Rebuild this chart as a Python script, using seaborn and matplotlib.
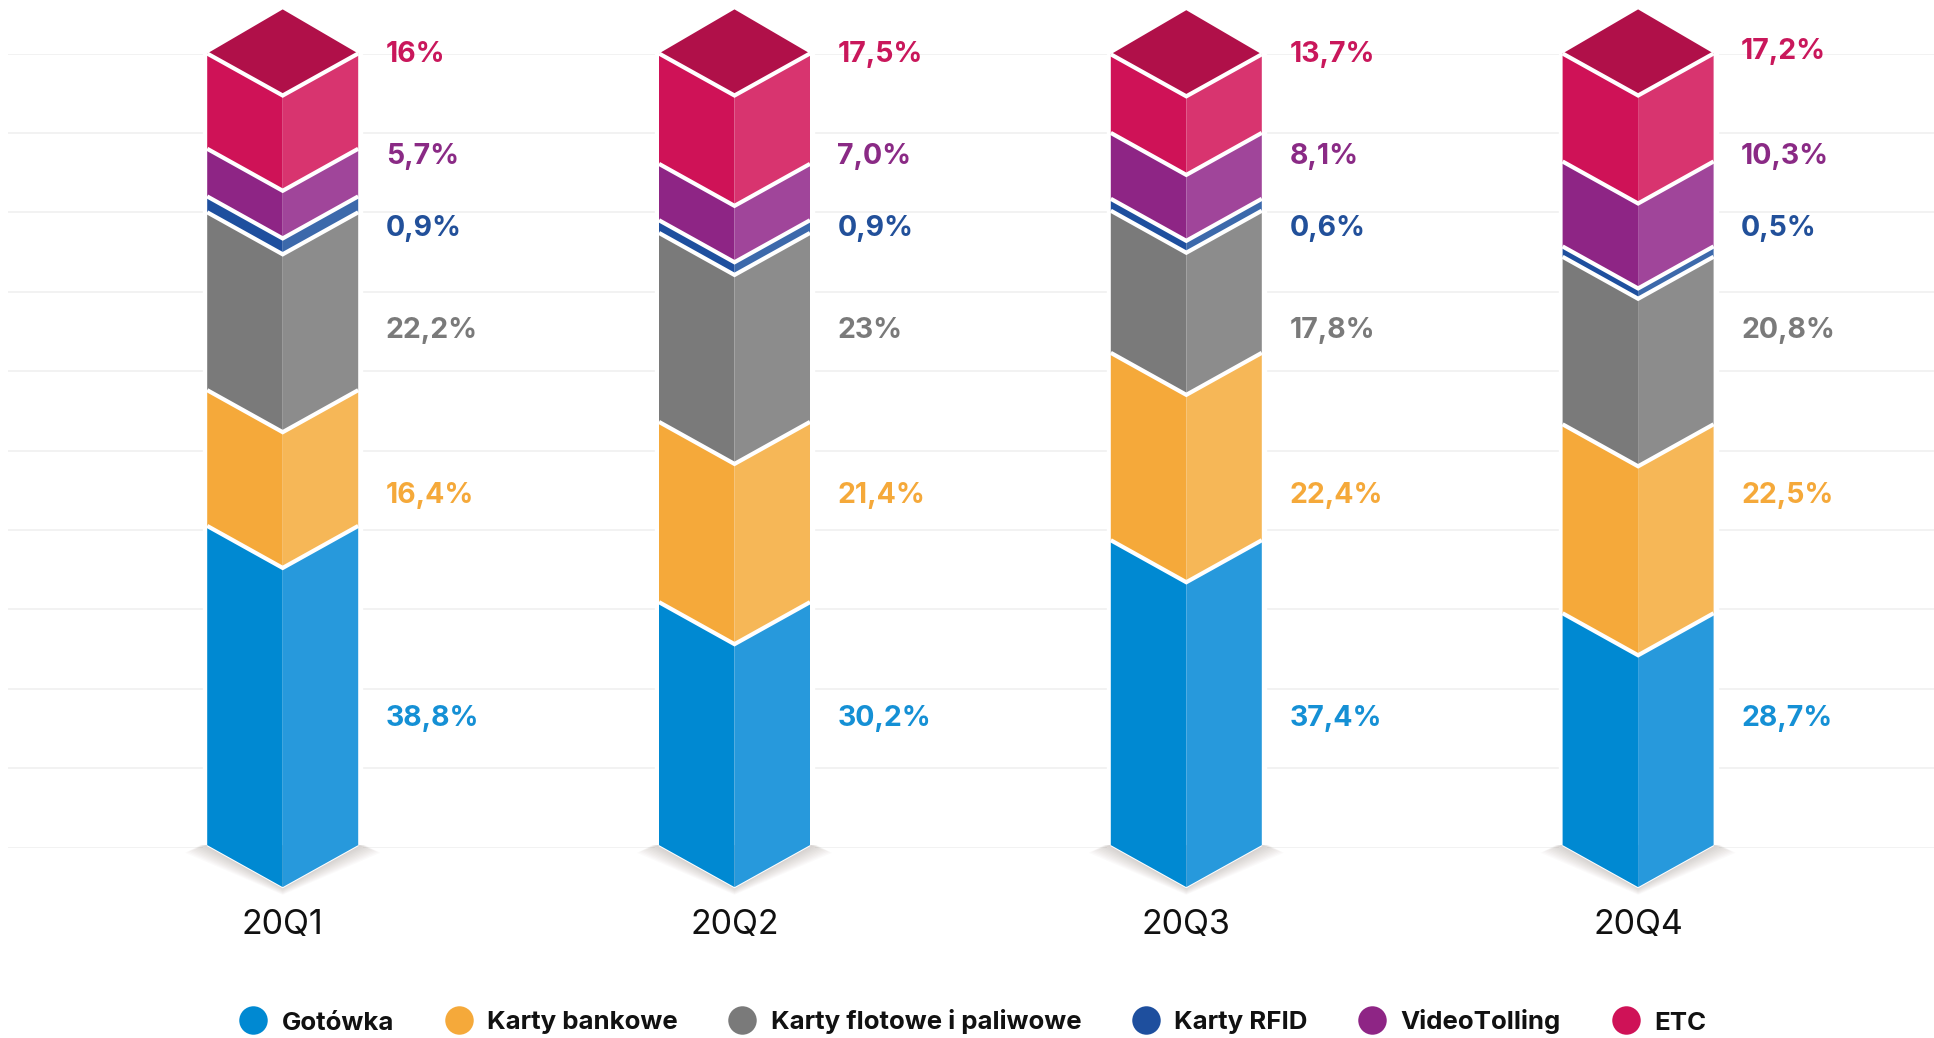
import matplotlib
matplotlib.use("Agg")
import matplotlib.pyplot as plt
from matplotlib.lines import Line2D
import seaborn as sns
import pandas as pd
import numpy as np

quarters = ["20Q1", "20Q2", "20Q3", "20Q4"]
methods = ["Gotówka", "Karty bankowe", "Karty flotowe i paliwowe", "Karty RFID", "VideoTolling", "ETC"]

# printed percentages
gotowka_lbl = ["38,8%", "30,2%", "37,4%", "28,7%"]
bankowe_lbl = ["16,4%", "21,4%", "22,4%", "22,5%"]
flotowe_lbl = ["22,2%", "23%", "17,8%", "20,8%"]
rfid_lbl = ["0,9%", "0,9%", "0,6%", "0,5%"]
video_lbl = ["5,7%", "7,0%", "8,1%", "10,3%"]
etc_lbl = ["16%", "17,5%", "13,7%", "17,2%"]

# heights as actually drawn in the picture (the artwork is not quite to scale)
gotowka_h = [40.2, 30.6, 38.4, 29.2]
bankowe_h = [17.1, 22.7, 23.6, 23.8]
flotowe_h = [22.4, 23.8, 17.9, 21.1]
rfid_h = [2.0, 1.6, 1.5, 1.3]
video_h = [6.0, 7.1, 8.3, 10.7]
etc_h = [12.0, 13.9, 9.9, 13.6]

left_cols = ["#0089d2", "#f5a93a", "#7a7a7a", "#1e4f9e", "#8e2585", "#cf1257"]
right_cols = ["#2799dc", "#f6b757", "#8c8c8c", "#3c69ab", "#a0459a", "#d8346f"]
top_col = "#b01049"
text_cols = ["#1590d5", "#f5a93a", "#7a7a7a", "#22509a", "#8a2a85", "#c9175b"]

W, H = 1934, 1038
PX_X = 451.8   # pixels per category
PX_Y = 7.94    # pixels per axis unit
hw = 75.5 / PX_X
sk = 42 / PX_Y
base = 0.3

sns.set_theme(style="white")
plt.rcParams["font.family"] = ["Inter", "DejaVu Sans"]

fig = plt.figure(figsize=(W / 100, H / 100), dpi=100, facecolor="white")
ax = fig.add_axes([8 / W, 1 - 847.5 / H, 1 - 8 / W, 794 / H])

df = pd.DataFrame({
    "quarter": quarters,
    "total": np.sum([gotowka_h, bankowe_h, flotowe_h, rfid_h, video_h, etc_h], axis=0) + base,
})
# white bar behind each column leaves the gap in the gridlines
sns.barplot(data=df, x="quarter", y="total", color="white", saturation=1,
            width=2 * (75.5 + 4) / PX_X, ax=ax)

ax.set_xlim((8 - 282.7) / PX_X, (W - 282.7) / PX_X)
ax.set_ylim(0, 100)
ax.set_yticks(np.arange(0, 101, 10))
ax.set_axisbelow(True)
ax.grid(axis="y", color="#f2f2f2", lw=1.4)
ax.grid(axis="x", visible=False)
ax.set_xlabel("")
ax.set_ylabel("")
ax.tick_params(axis="y", left=False, labelleft=False)
ax.tick_params(axis="x", length=0, pad=44, labelsize=24.5, labelcolor="#111111")
sns.despine(ax=ax, left=True, bottom=True)

heights = np.array([gotowka_h, bankowe_h, flotowe_h, rfid_h, video_h, etc_h])
labels = [gotowka_lbl, bankowe_lbl, flotowe_lbl, rfid_lbl, video_lbl, etc_lbl]
label_y = [16.2, 44.3, 65.1, 78.0, 87.0, 99.9]

for q in range(len(quarters)):
    c = q
    # soft shadow under the column
    for k in range(22, 0, -2):
        dx, dy = k / PX_X, k / PX_Y
        ax.fill([c - hw - dx, c, c + hw + dx, c + hw + dx * 0.3, c - hw - dx * 0.3],
                [base - dy * 0.35, base - sk - dy * 0.35, base - dy * 0.35, base, base],
                color="#83736a", alpha=0.03, lw=0, clip_on=False, zorder=2)
    bottom = base
    for s in range(len(methods)):
        top = bottom + heights[s][q]
        ax.fill([c - hw, c, c, c - hw], [bottom, bottom - sk, top - sk, top],
                color=left_cols[s], lw=0, clip_on=False, zorder=3)
        ax.fill([c, c + hw, c + hw, c], [bottom - sk, bottom, top, top - sk],
                color=right_cols[s], lw=0, clip_on=False, zorder=3)
        ax.text(c + 103 / PX_X, label_y[s] + (0.3 if s == 5 and q == 3 else 0), labels[s][q],
                color=text_cols[s], fontsize=20.5, fontweight="bold", va="center", ha="left", zorder=6)
        bottom = top
    # top face
    ax.fill([c - hw, c, c + hw, c], [bottom, bottom + sk * 1.05, bottom, bottom - sk],
            color=top_col, lw=0, clip_on=False, zorder=3)
    # white seams between the segments
    edge = base
    for s in range(len(methods)):
        edge += heights[s][q]
        ax.plot([c - hw, c, c + hw], [edge, edge - sk, edge], color="white", lw=3,
                solid_joinstyle="miter", solid_capstyle="butt", clip_on=False, zorder=4)
    ax.plot([c - hw, c, c + hw], [base, base - sk, base], color="white", lw=1.5,
            solid_joinstyle="miter", solid_capstyle="butt", clip_on=False, zorder=2.5)

handles = [Line2D([], [], marker="o", ls="none", ms=20.5, mew=0, color=col) for col in left_cols]
fig.legend(handles, methods, loc="center", bbox_to_anchor=(0.5025, 1 - 1022 / H), ncol=6,
           frameon=False, prop={"size": 18.6, "weight": "bold"}, labelcolor="#111111",
           handlelength=1.2, handletextpad=0.5, columnspacing=1.9, borderpad=0)

fig.savefig("out.png", dpi=100, facecolor="white")
